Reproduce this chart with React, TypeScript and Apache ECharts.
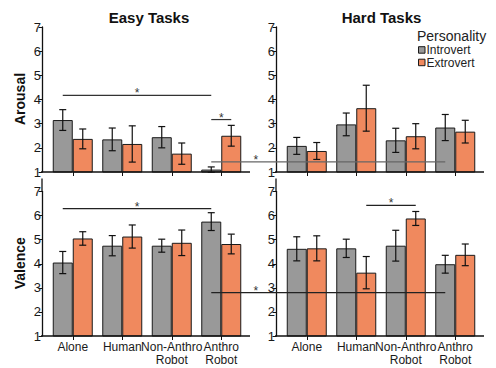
import { useEffect, useRef } from "react";
import * as echarts from "echarts";

// ---------- data ----------
const categories = ["Alone", "Human", "Non-Anthro\nRobot", "Anthro\nRobot"];
const groupNames = ["Introvert", "Extrovert"];
const panelTitles = ["Easy Tasks", "Hard Tasks"];
const rowTitles = ["Arousal", "Valence"];
const legendTitle = "Personality";

const easyArousalIntro = [3.15, 2.35, 2.44, 1.1];
const easyArousalIntroErr = [0.43, 0.47, 0.44, 0.11];
const easyArousalExtro = [2.37, 2.16, 1.76, 2.5];
const easyArousalExtroErr = [0.41, 0.75, 0.44, 0.43];

const hardArousalIntro = [2.08, 2.97, 2.31, 2.84];
const hardArousalIntroErr = [0.35, 0.47, 0.5, 0.54];
const hardArousalExtro = [1.87, 3.64, 2.48, 2.67];
const hardArousalExtroErr = [0.35, 0.95, 0.52, 0.47];

const easyValenceIntro = [4.05, 4.75, 4.75, 5.75];
const easyValenceIntroErr = [0.46, 0.42, 0.27, 0.37];
const easyValenceExtro = [5.05, 5.13, 4.87, 4.82];
const easyValenceExtroErr = [0.28, 0.48, 0.53, 0.41];

const hardValenceIntro = [4.62, 4.64, 4.75, 3.98];
const hardValenceIntroErr = [0.5, 0.38, 0.64, 0.37];
const hardValenceExtro = [4.64, 3.63, 5.88, 4.37];
const hardValenceExtroErr = [0.52, 0.67, 0.29, 0.45];

const yMin = 1;
const yMax = 7;
const yStep = 1;

// significance annotations: [gridIndex, categoryIndex, side(0=intro,1=extro)], y value in the "from" grid
const sigLines = [
  { from: [0, 0, 0], to: [0, 3, 0], value: 4.17, star: 0.5, color: "#333" },
  { from: [0, 3, 0], to: [0, 3, 1], value: 3.17, star: 0.5, color: "#333" },
  { from: [0, 3, 0], to: [1, 3, 0], value: 1.42, star: 0.19, color: "#666" },
  { from: [2, 0, 0], to: [2, 3, 0], value: 6.29, star: 0.5, color: "#222" },
  { from: [2, 3, 0], to: [3, 3, 0], value: 2.8, star: 0.19, color: "#222" },
  { from: [3, 1, 1], to: [3, 2, 1], value: 6.42, star: 0.5, color: "#222" },
];

// ---------- style ----------
const GREY = "#999999";
const ORANGE = "#F0895E";
const FONT = '"Liberation Sans", Arial, Helvetica, sans-serif';
const BAR_W = 20;
const Y_OFFSET = 6;

const GRIDS = [
  { left: 48, top: 27, width: 198, height: 145 },
  { left: 282, top: 27, width: 198, height: 145 },
  { left: 48, top: 191.5, width: 198, height: 144.5 },
  { left: 282, top: 191.5, width: 198, height: 144.5 },
];

const panels = [
  { intro: easyArousalIntro, introErr: easyArousalIntroErr, extro: easyArousalExtro, extroErr: easyArousalExtroErr },
  { intro: hardArousalIntro, introErr: hardArousalIntroErr, extro: hardArousalExtro, extroErr: hardArousalExtroErr },
  { intro: easyValenceIntro, introErr: easyValenceIntroErr, extro: easyValenceExtro, extroErr: easyValenceExtroErr },
  { intro: hardValenceIntro, introErr: hardValenceIntroErr, extro: hardValenceExtro, extroErr: hardValenceExtroErr },
];

function errSeries(g: number, vals: number[], errs: number[], offset: number) {
  return {
    type: "custom",
    xAxisIndex: g,
    yAxisIndex: g,
    z: 5,
    silent: true,
    encode: { x: 0, y: 1 },
    data: vals.map((v, i) => [i, v, errs[i]]),
    renderItem: (_params: any, api: any) => {
      const cat = api.value(0);
      const v = api.value(1);
      const e = api.value(2);
      const top = api.coord([cat, v + e]);
      const bot = api.coord([cat, v - e]);
      const x = top[0] + offset;
      const st = { stroke: "#111", lineWidth: 1.2 };
      const cap = 3.5;
      return {
        type: "group",
        children: [
          { type: "line", shape: { x1: x, y1: top[1], x2: x, y2: bot[1] }, style: st },
          { type: "line", shape: { x1: x - cap, y1: top[1], x2: x + cap, y2: top[1] }, style: st },
          { type: "line", shape: { x1: x - cap, y1: bot[1], x2: x + cap, y2: bot[1] }, style: st },
        ],
      };
    },
  };
}

export default function App() {
  const ref = useRef<HTMLDivElement>(null);

  useEffect(() => {
    if (!ref.current) return;
    const chart = echarts.init(ref.current, null, { renderer: "svg" });

    const series: any[] = [];
    panels.forEach((p, g) => {
      series.push({
        type: "bar",
        name: groupNames[0],
        xAxisIndex: g,
        yAxisIndex: g,
        data: p.intro,
        barWidth: BAR_W,
        barGap: "0%",
        itemStyle: { color: GREY, borderColor: "#1a1a1a", borderWidth: 1 },
      });
      series.push({
        type: "bar",
        name: groupNames[1],
        xAxisIndex: g,
        yAxisIndex: g,
        data: p.extro,
        barWidth: BAR_W,
        barGap: "0%",
        itemStyle: { color: ORANGE, borderColor: "#1a1a1a", borderWidth: 1 },
      });
      series.push(errSeries(g, p.intro, p.introErr, -BAR_W / 2));
      series.push(errSeries(g, p.extro, p.extroErr, BAR_W / 2));
    });

    const option: any = {
      animation: false,
      backgroundColor: "#ffffff",
      textStyle: { fontFamily: FONT },
      grid: GRIDS.map((r) => ({ ...r, containLabel: false })),
      xAxis: GRIDS.map((_r, g) => ({
        type: "category",
        gridIndex: g,
        data: categories,
        axisLine: { show: false },
        axisTick: { show: true, alignWithLabel: true, length: 4, lineStyle: { color: "#111", width: 1 } },
        axisLabel: {
          show: g >= 2,
          interval: 0,
          fontSize: 12,
          lineHeight: 13,
          color: "#1a1a1a",
          margin: 4,
          fontFamily: FONT,
        },
        splitLine: { show: false },
      })),
      yAxis: GRIDS.map((_r, g) => ({
        type: "value",
        gridIndex: g,
        min: yMin,
        max: yMax,
        interval: yStep,
        offset: Y_OFFSET,
        axisLine: { show: true, lineStyle: { color: "#111", width: 1.3 } },
        axisTick: { show: true, length: 3.5, lineStyle: { color: "#111", width: 1 } },
        axisLabel: { fontSize: 13, color: "#1a1a1a", margin: 1, fontFamily: FONT },
        splitLine: { show: false },
      })),
      series,
    };
    chart.setOption(option);

    const graphics: any[] = [];
    // axis baselines (extended beyond the category band) and y-axis extensions of lower panels
    GRIDS.forEach((r, g) => {
      const y = r.top + r.height;
      graphics.push({
        type: "line",
        z: 10,
        shape: { x1: r.left - Y_OFFSET - 1, y1: y, x2: r.left + r.width + 4, y2: y },
        style: { stroke: "#111", lineWidth: 1.4 },
      });
      if (g >= 2) {
        graphics.push({
          type: "line",
          z: 10,
          shape: { x1: r.left - Y_OFFSET, y1: r.top - 13, x2: r.left - Y_OFFSET, y2: r.top },
          style: { stroke: "#111", lineWidth: 1.3 },
        });
      }
    });

    // titles
    panelTitles.forEach((t, i) => {
      graphics.push({
        type: "text",
        x: i === 0 ? 149 : 381.5,
        y: 17,
        style: { text: t, align: "center", verticalAlign: "middle", fontSize: 15, fontWeight: "bold", fontFamily: FONT, fill: "#111" },
      });
    });
    rowTitles.forEach((t, i) => {
      const r = GRIDS[i * 2];
      graphics.push({
        type: "text",
        x: 20,
        y: r.top + r.height / 2 - 0.5,
        rotation: Math.PI / 2,
        style: { text: t, align: "center", verticalAlign: "middle", fontSize: 14, fontWeight: "bold", fontFamily: FONT, fill: "#111" },
      });
    });

    // legend
    graphics.push({
      type: "text",
      x: 417,
      y: 36,
      style: { text: legendTitle, align: "left", verticalAlign: "middle", fontSize: 14, fontFamily: FONT, fill: "#222" },
    });
    [GREY, ORANGE].forEach((c, i) => {
      const cy = 50 + i * 12.5;
      graphics.push({
        type: "rect",
        shape: { x: 418.5, y: cy - 3.3, width: 6.5, height: 6.5 },
        style: { fill: c, stroke: "#1a1a1a", lineWidth: 1 },
      });
      graphics.push({
        type: "text",
        x: 426.5,
        y: cy + 0.3,
        style: { text: groupNames[i], align: "left", verticalAlign: "middle", fontSize: 12, fontFamily: FONT, fill: "#222" },
      });
    });

    // significance lines
    const px = (g: number, cat: number, side: number, v: number) => {
      const p = chart.convertToPixel({ gridIndex: g }, [cat, v]) as number[];
      return [p[0] + (side ? BAR_W / 2 : -BAR_W / 2), p[1]];
    };
    sigLines.forEach((s) => {
      const a = px(s.from[0], s.from[1], s.from[2], s.value);
      const b = px(s.to[0], s.to[1], s.to[2], s.value);
      const y = a[1];
      graphics.push({
        type: "line",
        z: 20,
        shape: { x1: a[0], y1: y, x2: b[0], y2: y },
        style: { stroke: s.color, lineWidth: 1.2 },
      });
      graphics.push({
        type: "text",
        z: 20,
        x: a[0] + (b[0] - a[0]) * s.star,
        y: y - 2,
        style: { text: "*", align: "center", verticalAlign: "middle", fontSize: 12, fontFamily: FONT, fill: "#333" },
      });
    });

    chart.setOption({ graphic: graphics });

    return () => chart.dispose();
  }, []);

  return (
    <div
      ref={ref}
      style={{ position: "fixed", left: 0, top: 0, width: 496, height: 368, background: "#fff" }}
    />
  );
}
